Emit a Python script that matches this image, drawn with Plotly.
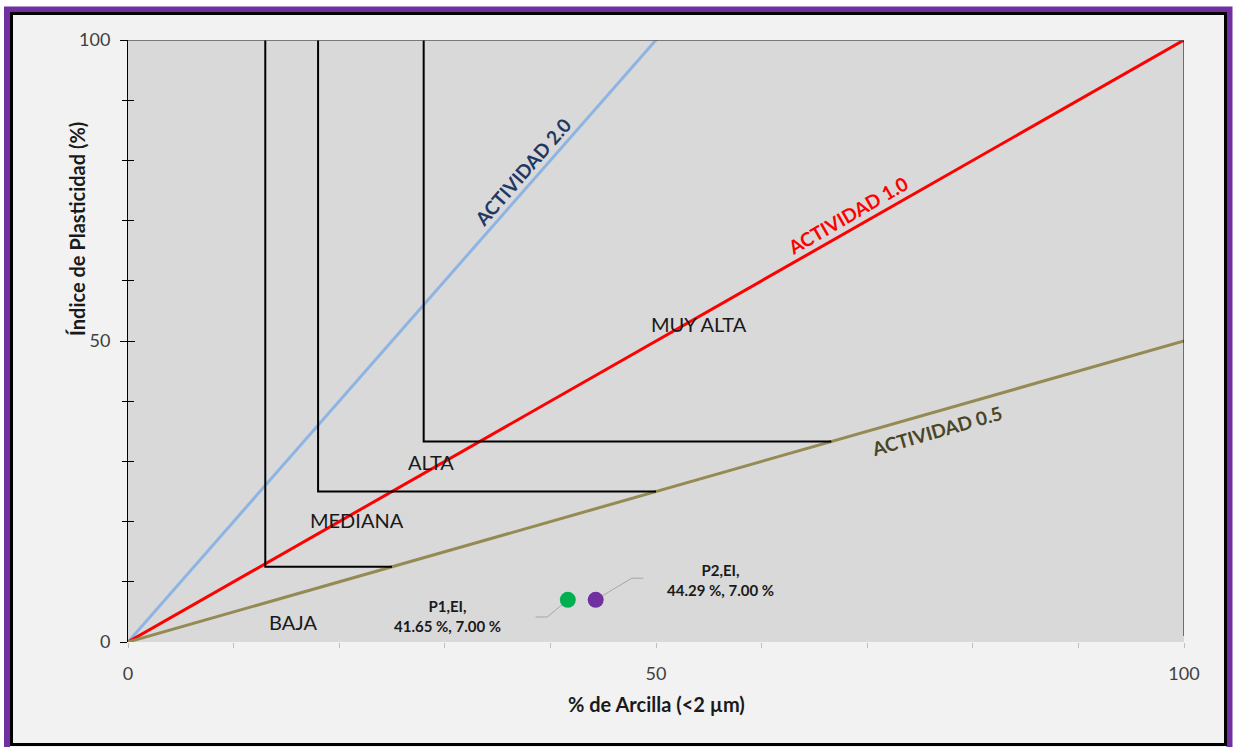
import plotly.graph_objects as go

# ---- data ----
act_x = [0, 100]
act20_y = [0, 200]          # Actividad 2.0 (clipped by axis range)
act10_y = [0, 100]          # Actividad 1.0
act05_y = [0, 50]           # Actividad 0.5

# zone boundaries (Baja / Mediana / Alta / Muy alta)
b1_x = [13, 13, 25]
b1_y = [100, 12.5, 12.5]
b2_x = [18, 18, 50]
b2_y = [100, 25, 25]
b3_x = [28, 28, 66.6]
b3_y = [100, 33.3, 33.3]
edge_x = [100, 100]
edge_y = [1, 100]

pts_name = ["P1,EI,", "P2,EI,"]
pts_x = [41.65, 44.29]
pts_y = [7.00, 7.00]
pts_col = ["#00b050", "#7030a0"]

zones = ["BAJA", "MEDIANA", "ALTA", "MUY ALTA"]
zone_x = [15.7, 21.7, 28.7, 54.1]
zone_y = [3.3, 20.3, 29.9, 52.8]

tick_vals = [0, 50, 100]

FONT = "Lato"

fig = go.Figure()

def line(x, y, color, width):
    fig.add_trace(go.Scatter(x=x, y=y, mode="lines", line=dict(color=color, width=width),
                             hoverinfo="skip", showlegend=False, cliponaxis=True))

line(act_x, act20_y, "#8db4e2", 3)
line(act_x, act10_y, "#ff0000", 3)
line(act_x, act05_y, "#948a54", 3)
line(b1_x, b1_y, "#000000", 2)
line(b2_x, b2_y, "#000000", 2)
line(b3_x, b3_y, "#000000", 2)
line(edge_x, edge_y, "#000000", 1)
line([0, 100], [100, 100], "#595959", 1.3)

# leader lines for labels
line([38.6, 39.7, pts_x[0]], [4.15, 4.15, pts_y[0]], "#a6a6a6", 1)
line([pts_x[1], 47.7, 48.8], [pts_y[1], 10.6, 10.6], "#a6a6a6", 1)

fig.add_trace(go.Scatter(x=pts_x, y=pts_y, mode="markers",
                         marker=dict(color=pts_col, size=16, line=dict(width=0)),
                         showlegend=False, hoverinfo="skip"))

# invisible trace for the overlay axis (inside half of crossing ticks)
fig.add_trace(go.Scatter(x=[0], y=[0], yaxis="y2", mode="markers", marker=dict(opacity=0),
                         showlegend=False, hoverinfo="skip"))

W, H = 1234, 747
L, R, T, B = 128, 50, 40, 105
pw, ph = W - L - R, H - T - B

def fx(px):
    return (px - L) / pw

def fy(py):
    return (H - B - py) / ph

annos = []
for t, x, y in zip(zones, zone_x, zone_y):
    annos.append(dict(x=x, y=y, text=t, showarrow=False,
                      font=dict(family=FONT, size=20, color="#1a1a1a")))

annos.append(dict(x=37.4, y=78.1, text="<b>ACTIVIDAD 2.0</b>", textangle=-49, showarrow=False,
                  font=dict(family=FONT, size=19, color="#1f3864")))
annos.append(dict(x=68.1, y=70.9, text="<b>ACTIVIDAD 1.0</b>", textangle=-30, showarrow=False,
                  font=dict(family=FONT, size=19, color="#ff0000")))
annos.append(dict(x=76.6, y=35.2, text="<b>ACTIVIDAD 0.5</b>", textangle=-16, showarrow=False,
                  font=dict(family=FONT, size=19, color="#4a4526")))

lab_pos = [(30.3, 4.3), (56.1, 10.3)]
for n, x, y, (lx, ly) in zip(pts_name, pts_x, pts_y, lab_pos):
    annos.append(dict(x=lx, y=ly, text=f"<b>{n}<br>{x:.2f} %, {y:.2f} %</b>", showarrow=False,
                      font=dict(family=FONT, size=15, color="#1a1a1a"), align="center"))

# axis titles
annos.append(dict(xref="paper", yref="paper", x=0.5, y=fy(704), text="<b>% de Arcilla (<2 µm)</b>",
                  showarrow=False, xanchor="center", yanchor="middle",
                  font=dict(family=FONT, size=20, color="#1a1a1a")))
annos.append(dict(xref="paper", yref="paper", x=fx(77), y=fy(229), text="<b>Índice de Plasticidad (%)</b>",
                  showarrow=False, xanchor="center", yanchor="middle", textangle=-90,
                  font=dict(family=FONT, size=20, color="#1a1a1a")))

shapes = [
    # outer purple frame
    dict(type="rect", xref="paper", yref="paper", layer="below",
         x0=fx(7), x1=fx(1229.5), y0=fy(752), y1=fy(9.5),
         line=dict(color="#7030a0", width=6), fillcolor="#f2f2f2"),
    # inner black frame
    dict(type="rect", xref="paper", yref="paper", layer="below",
         x0=fx(11.5), x1=fx(1225.5), y0=fy(744.5), y1=fy(13.5),
         line=dict(color="#000000", width=3), fillcolor="#f2f2f2"),
    # plot area
    dict(type="rect", xref="paper", yref="paper", layer="below",
         x0=0, x1=1, y0=0, y1=1, line=dict(width=0), fillcolor="#d9d9d9"),
]

fig.update_layout(
    width=W, height=H,
    margin=dict(l=L, r=R, t=T, b=B, pad=0),
    paper_bgcolor="#ffffff", plot_bgcolor="#d9d9d9",
    font=dict(family=FONT, color="#404040"),
    shapes=shapes, annotations=annos,
    xaxis=dict(range=[0, 100], tickvals=tick_vals, showgrid=False, zeroline=False,
               showline=False, ticks="outside", ticklen=5, tickcolor="#bfbfbf", tickwidth=1,
               minor=dict(dtick=10, ticks="outside", ticklen=5, tickcolor="#bfbfbf", showgrid=False),
               tickfont=dict(size=18, color="#404040", family=FONT), ticklabelstandoff=10),
    yaxis=dict(range=[0, 100], tickvals=tick_vals, showgrid=False, zeroline=False,
               showline=True, linecolor="#000000", linewidth=1,
               ticks="outside", ticklen=7, tickcolor="#000000",
               minor=dict(dtick=10, ticks="outside", ticklen=5, tickcolor="#000000", showgrid=False),
               tickfont=dict(size=18, color="#404040", family=FONT), ticklabelstandoff=6),
    yaxis2=dict(range=[0, 100], overlaying="y", side="left", showgrid=False, zeroline=False,
                showline=False, showticklabels=False, tickvals=tick_vals,
                ticks="inside", ticklen=7, tickcolor="#000000",
                minor=dict(dtick=10, ticks="inside", ticklen=6, tickcolor="#000000", showgrid=False)),
)

fig.write_html("out.html")
